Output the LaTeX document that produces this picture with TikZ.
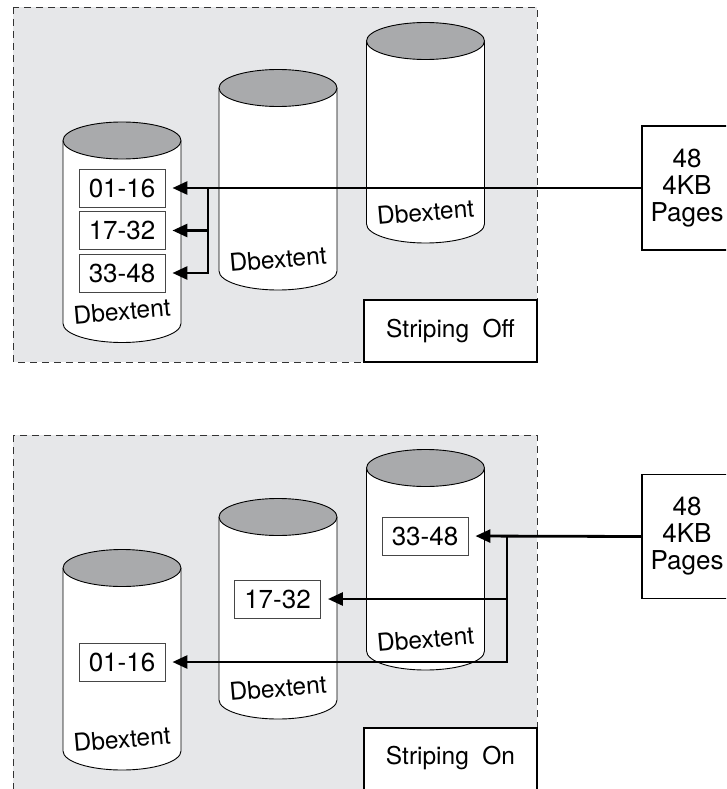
\documentclass[tikz,border=0pt]{standalone}
\usepackage{fontspec}
\setmainfont{TeX Gyre Heros}
\usetikzlibrary{arrows.meta}

\definecolor{panelgray}{RGB}{230,231,233}
\definecolor{capgray}{RGB}{169,170,172}
\definecolor{edgegray}{RGB}{70,70,70}

\newcommand{\numfont}{\fontsize{26}{27}\selectfont}
\newcommand{\modefont}{\fontsize{24.5}{26}\selectfont}
\newcommand{\dbfont}{\fontsize{24.5}{24.5}\selectfont}

% A storage drum: #1 = x of the axis, #2 = y of the lid centre, #3 = label name
\newcommand{\drum}[3]{%
  \fill[white] (#1-59,#2) -- (#1-59,#2+183)
    arc[start angle=180,end angle=360,x radius=59pt,y radius=19pt] -- (#1+59,#2) -- cycle;
  \draw[drumline] (#1-59,#2) -- (#1-59,#2+183)
    arc[start angle=180,end angle=360,x radius=59pt,y radius=19pt] -- (#1+59,#2);
  \draw[drumline,fill=capgray] (#1,#2) ellipse[x radius=59pt,y radius=18.5pt];
  \node[drumlabel] (#3) at (#1,#2+171) {Dbextent};
}

\tikzset{
  drumline/.style={draw=black,line width=0.9pt},
  drumlabel/.style={font=\dbfont,rotate=5,inner sep=0pt},
  rangebox/.style={draw=edgegray,line width=0.9pt,fill=white,minimum width=86pt,
    minimum height=38pt,inner sep=0pt,font=\numfont},
  pagebox/.style={draw=black,line width=1.1pt,fill=white,minimum width=90pt,
    minimum height=124pt,align=center,inner sep=0pt,font=\numfont},
  modebox/.style={draw=black,line width=2.8pt,fill=white},
  feed/.style={line width=2.8pt,-{Triangle[length=15pt,width=13pt]},shorten >=7pt},
  panel/.style={fill=panelgray,draw=black!80,line width=0.9pt,dash pattern=on 7pt off 5pt}
}

\begin{document}
\begin{tikzpicture}[x=1pt,y=-1pt]
\useasboundingbox (0,0) rectangle (726,789);
\clip (0,0) rectangle (726,789);

% ---------- striping off ----------
\path[panel] (13,7) rectangle (537,362);
\drum{122}{140.5}{td1}
\drum{278}{88}{td2}
\drum{425.5}{41}{td3}

\node[rangebox] (t1) at (122,188) {01-16};
\node[rangebox] (t2) at (122,230.5) {17-32};
\node[rangebox] (t3) at (122,273) {33-48};

\node[pagebox] (tp) at (687,188) {48\\4KB\\Pages};
\coordinate (tj) at (208,188);

\draw[feed] (tp.west) -- (t1.east);
\draw[feed] (tj) |- (t2.east);
\draw[feed] (tj) |- (t3.east);

\draw[modebox] (364,300) rectangle (537,362);
\node[font=\modefont] (off) at (450.5,331) {Striping\hspace{0.55em}Off};

% ---------- striping on ----------
\path[panel] (13,435) rectangle (537,800);
\drum{122}{568}{bd1}
\drum{278}{517}{bd2}
\drum{425.5}{468}{bd3}

\node[rangebox] (b1) at (122,662) {01-16};
\node[rangebox] (b2) at (277.5,599) {17-32};
\node[rangebox] (b3) at (425,536) {33-48};

\node[pagebox] (bp) at (687,536.5) {48\\4KB\\Pages};
\coordinate (bj) at (507,536);

\draw[feed] (bp.west) -- (b3.east);
\draw[feed] (bj) |- (b2.east);
\draw[feed] (bj) |- (b1.east);

\draw[modebox] (364,728) rectangle (537,800);
\node[font=\modefont] (on) at (450.5,758) {Striping\hspace{0.55em}On};
\end{tikzpicture}
\end{document}
